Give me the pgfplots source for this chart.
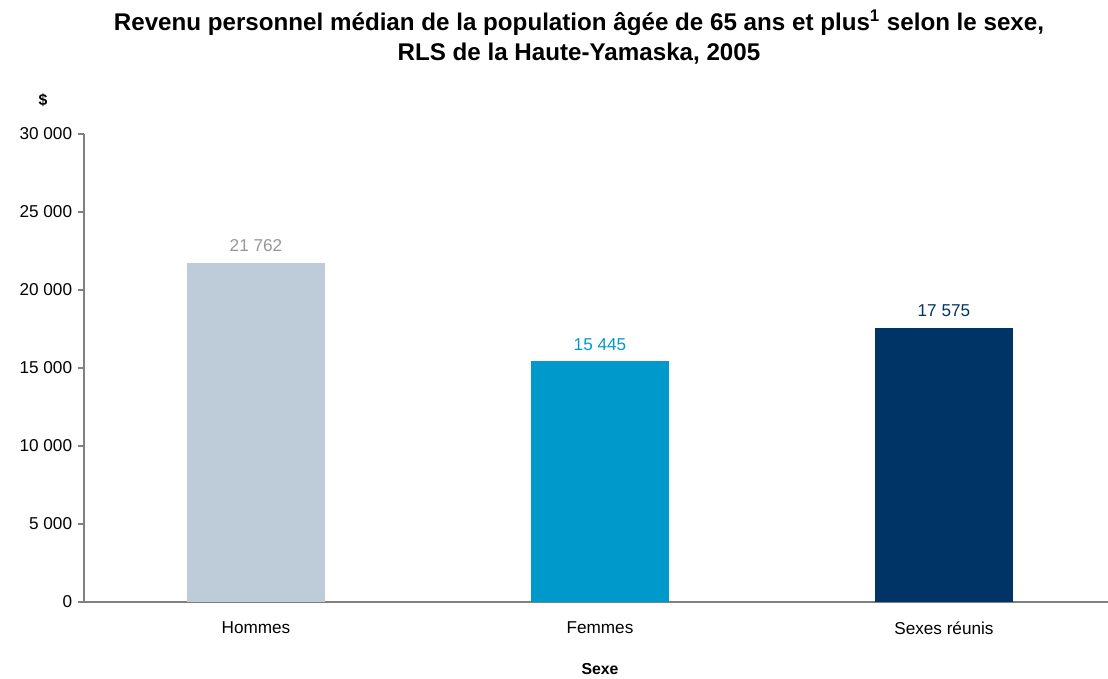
\documentclass[border=0pt]{standalone}
\usepackage{fontspec}
\setmainfont{Liberation Sans}
\usepackage{pgfplots}
\pgfplotsset{compat=1.18}
\definecolor{cHom}{RGB}{189,204,216}
\definecolor{cFem}{RGB}{0,153,204}
\definecolor{cTot}{RGB}{0,51,102}
\definecolor{cLbl}{RGB}{150,150,150}
\definecolor{cAxe}{RGB}{128,128,128}
\begin{document}
\begin{tikzpicture}
\useasboundingbox (0,0) rectangle (664.8pt,407.4pt);
\begin{axis}[
  at={(50.4pt,46.2pt)}, anchor=south west,
  scale only axis, width=614.4pt, height=280.8pt,
  xmin=-0.5, xmax=2.477, ymin=0, ymax=30000,
  axis lines*=left, axis line style={cAxe, line width=0.8pt},
  ybar, bar width=0.401, bar shift=0pt,
  xtick={0,1,2}, xticklabels={Hommes,Femmes,Sexes réunis},
  x tick style={draw=none},
  extra x ticks={-0.5,0.5,1.5}, extra x tick labels={},
  extra x tick style={tick style={draw=cAxe, line width=0.8pt}, major tick length=3.6pt},
  ytick={0,5000,...,30000}, scaled y ticks=false,
  y tick style={cAxe, line width=0.8pt}, major tick length=3.6pt,
  tick align=outside,
  /pgf/number format/assume math mode=true,
  /pgf/number format/.cd, fixed, precision=0, 1000 sep={\ }, /pgfplots/.cd,
  tick label style={font=\fontsize{10.3}{12}\selectfont, black},
  xticklabel style={yshift=-4.5pt},
  nodes near coords, nodes near coords style={font=\fontsize{10.3}{12}\selectfont, yshift=3pt},
  every axis plot/.append style={draw=none},
  clip=false]
\addplot[fill=cHom, nodes near coords style={text=cLbl}] coordinates {(0,21762)};
\addplot[fill=cFem, nodes near coords style={text=cFem}] coordinates {(1,15445)};
\addplot[fill=cTot, nodes near coords style={text=cTot}] coordinates {(2,17575)};
\end{axis}
\node[font=\bfseries\fontsize{14.5}{18}\selectfont, align=center, anchor=center] at (347.4pt,385.2pt)
  {Revenu personnel médian de la population âgée de 65 ans et plus\textsuperscript{1} selon le sexe,\\RLS de la Haute-Yamaska, 2005};
\node[font=\bfseries\fontsize{9.5}{11}\selectfont] at (25.8pt,347.4pt) {\$};
\node[font=\bfseries\fontsize{9.5}{11}\selectfont] at (360pt,6pt) {Sexe};
\end{tikzpicture}
\end{document}
